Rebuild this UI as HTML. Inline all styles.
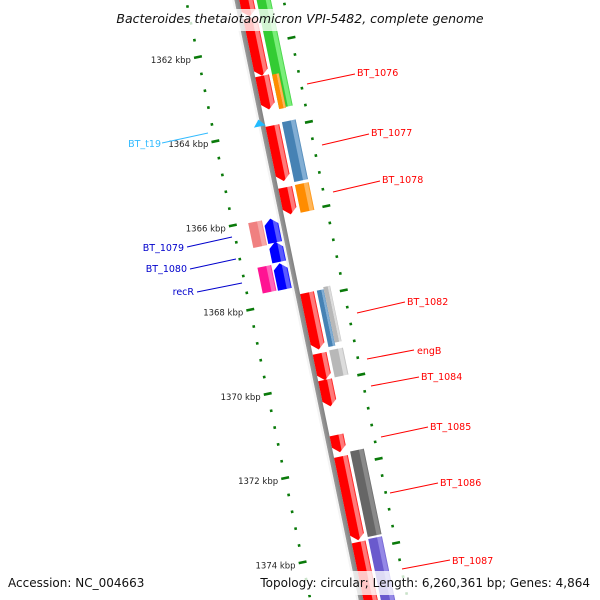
<!DOCTYPE html>
<html><head><meta charset="utf-8">
<style>
html,body{margin:0;padding:0;background:#fff;width:600px;height:600px;overflow:hidden;}
svg{display:block;font-family:"DejaVu Sans","Liberation Sans",sans-serif;overflow:hidden;}
</style></head>
<body>
<svg id="chart" width="600" height="600" viewBox="0 0 600 600" xmlns="http://www.w3.org/2000/svg">
<defs id="defs"></defs>
<g id="rot" transform="translate(242.5,33) rotate(-11.7)"></g>
<g id="labels"></g>
<rect x="84" y="9" width="354" height="22" fill="#fff" opacity="0.78"/>
<text x="300" y="23" text-anchor="middle" font-size="12.5" font-style="italic" fill="#111">Bacteroides thetaiotaomicron VPI-5482, complete genome</text>
<rect x="4" y="571" width="592" height="24" fill="#fff" opacity="0.78"/>
<text x="8" y="587" font-size="12" fill="#111">Accession: NC_004663</text>
<text x="590" y="587" text-anchor="end" font-size="12" fill="#111">Topology: circular; Length: 6,260,361 bp; Genes: 4,864</text>
</svg>
<script>
// ---- data (positions in kbp) ----
const tickKbp = [1360,1362,1364,1366,1368,1370,1372,1374,1376];
const tickLabels = ["1360 kbp","1362 kbp","1364 kbp","1366 kbp","1368 kbp","1370 kbp","1372 kbp","1374 kbp","1376 kbp"];
// inner forward lane (red genes, arrow downstream)
const fwdStart = [1360.5,1361.36,1362.73,1363.91,1365.38,1367.88,1369.32,1369.95,1371.26,1371.77,1373.80];
const fwdEnd   = [1361.32,1362.73,1363.53,1365.23,1366.02,1369.23,1369.96,1370.58,1371.67,1373.76,1376.2];
// outer forward lane category boxes
const catStart = [1360.9,1362.75,1363.88,1365.37,1367.88,1367.83,1369.30,1371.70,1373.78];
const catEnd   = [1363.55,1363.57,1365.30,1366.03,1369.22,1369.15,1369.94,1373.73,1376.2];
const catColor = ["green","orange","steel","orange","steel","silver","silver","dgrey","slate"];
const catPart  = ["full","left","full","full","left","right","full","full","full"];
// reverse lane (blue genes, arrow upstream)
const revStart = [1366.02,1366.57,1367.08];
const revEnd   = [1366.59,1367.05,1367.70];
// reverse outer category boxes
const rcatStart = [1366.02,1367.08];
const rcatEnd   = [1366.61,1367.69];
const rcatColor = ["pink","magenta"];
// tRNA
const trnaStart = [1363.71];
const trnaEnd = [1363.85];

// ---- axis ----
const U0 = 14.5, UPK = 43.0;
function U(k){ return U0 + (k-1362)*UPK; }
const TH = 11.7*Math.PI/180, S = Math.sin(TH), C = Math.cos(TH);
function toScreen(v,u){ return [242.5 + v*C + u*S, 33 - v*S + u*C]; }

const NS = "http://www.w3.org/2000/svg";
const defs = document.getElementById('defs');
const g = document.getElementById('rot');
const colors = {
  red:["#ff0000","#ff7a7a"], blue:["#0000ff","#5a5aff"], green:["#33cc33","#7aee7a"],
  orange:["#ff8c00","#ffb65a"], steel:["#4682b4","#82aed4"], silver:["#b8b8b8","#dcdcdc"],
  dgrey:["#666666","#8a8a8a"], slate:["#6a5acd","#9488e6"], pink:["#f08080","#f6a8a8"],
  magenta:["#ff1493","#ff66bb"]
};
for (const k in colors){
  const lg = document.createElementNS(NS,'linearGradient');
  lg.setAttribute('id','g-'+k);
  lg.setAttribute('x1','0');lg.setAttribute('x2','1');lg.setAttribute('y1','0');lg.setAttribute('y2','0');
  const st=[[0,colors[k][0]],[0.62,colors[k][0]],[0.66,colors[k][1]],[0.9,colors[k][1]],[1,colors[k][0]]];
  st.forEach(s=>{const e=document.createElementNS(NS,'stop');e.setAttribute('offset',s[0]);e.setAttribute('stop-color',s[1]);lg.appendChild(e);});
  defs.appendChild(lg);
}
const bb = document.createElementNS(NS,'linearGradient');
bb.setAttribute('id','g-backbone');
[[0,"#f4f4f4"],[0.3,"#f4f4f4"],[0.36,"#9a9a9a"],[1,"#808080"]].forEach(s=>{const e=document.createElementNS(NS,'stop');e.setAttribute('offset',s[0]);e.setAttribute('stop-color',s[1]);bb.appendChild(e);});
defs.appendChild(bb);

// backbone
const bk = document.createElementNS(NS,'rect');


bk.setAttribute('x',-3.5);bk.setAttribute('y',-60);bk.setAttribute('width',7);bk.setAttribute('height',680);
bk.setAttribute('fill','url(#g-backbone)');
g.appendChild(bk);

function poly(pts,fill,name){
  const p=document.createElementNS(NS,'polygon');
  p.setAttribute('points',pts.map(a=>a.join(',')).join(' '));
  p.setAttribute('fill',fill);
  
  
  g.appendChild(p);
}
function arrowDown(v0,v1,u0,u1,fill,name){
  const h=Math.min(6,(u1-u0)*0.4), vm=(v0+v1)/2;
  poly([[v0,u0],[v1,u0],[v1,u1-h],[vm,u1],[v0,u1-h]],fill,name);
}
function arrowUp(v0,v1,u0,u1,fill,name){
  const h=Math.min(6,(u1-u0)*0.4), vm=(v0+v1)/2;
  poly([[vm,u0],[v1,u0+h],[v1,u1],[v0,u1],[v0,u0+h]],fill,name);
}
for(let i=0;i<fwdStart.length;i++){
  arrowDown(3.5,17.5,U(fwdStart[i]),U(fwdEnd[i]),'url(#g-red)','forward-gene');
}
for(let i=0;i<catStart.length;i++){
  let v0=20.5,v1=34.5;
  if(catPart[i]==='left'){v1=27.5;} if(catPart[i]==='right'){v0=27.5;}
  poly([[v0,U(catStart[i])],[v1,U(catStart[i])],[v1,U(catEnd[i])],[v0,U(catEnd[i])]],'url(#g-'+catColor[i]+')','gene-category-box');
}
for(let i=0;i<revStart.length;i++){
  arrowUp(-17.5,-3.5,U(revStart[i]),U(revEnd[i]),'url(#g-blue)','reverse-gene');
}
for(let i=0;i<rcatStart.length;i++){
  poly([[-33,U(rcatStart[i])],[-19,U(rcatStart[i])],[-19,U(rcatEnd[i])],[-33,U(rcatEnd[i])]],'url(#g-'+rcatColor[i]+')','gene-category-box');
}
for(let i=0;i<trnaStart.length;i++){
  const a=U(trnaStart[i]),b=U(trnaEnd[i]);
  poly([[-2,a],[4,b+1],[-8,b+1]],'#22bbff','trna-bt-t19');
}
const lab=document.getElementById('labels');
for(let k=1360;k<=1376.01;k+=0.4){
  const kk=Math.round(k*10)/10;
  const major=Math.abs(kk/2-Math.round(kk/2))<1e-6;
  [-48.5,47].forEach(v=>{
    const r=document.createElementNS(NS,'rect');
    const w=major?8:2.6, h=2.6;
    r.setAttribute('x',v-w/2);r.setAttribute('y',U(kk)-h/2);r.setAttribute('width',w);r.setAttribute('height',h);
    r.setAttribute('fill','#0a7a0a');
    
    
    g.appendChild(r);
  });
}
for(let i=0;i<tickKbp.length;i++){
  const p=toScreen(-48.5,U(tickKbp[i]));
  if(p[1]<40||p[1]>575) continue;
  const t=document.createElementNS(NS,'text');
  t.setAttribute('x',p[0]-7);t.setAttribute('y',p[1]+6);
  t.setAttribute('text-anchor','end');t.setAttribute('font-size','8.5');t.setAttribute('fill','#222');
  t.textContent=tickLabels[i];
  
  
  lab.appendChild(t);
}
const lbl=[
 ["BT_1076",307,84,355,74,357,76,"#ff0000","start"],
 ["BT_1077",322,145,369,134,371,136,"#ff0000","start"],
 ["BT_1078",333,192,380,181,382,183,"#ff0000","start"],
 ["BT_1082",357,313,405,302,407,305,"#ff0000","start"],
 ["engB",367,359,414,350,417,354,"#ff0000","start"],
 ["BT_1084",371,386,419,377,421,380,"#ff0000","start"],
 ["BT_1085",381,437,428,427,430,430,"#ff0000","start"],
 ["BT_1086",390,493,438,483,440,486,"#ff0000","start"],
 ["BT_1087",402,569,450,560,452,564,"#ff0000","start"],
 ["BT_1079",232,237,187,247,184,251,"#0000cc","end"],
 ["BT_1080",236,259,190,269,187,272,"#0000cc","end"],
 ["recR",242,283,197,292,194,295,"#0000cc","end"],
 ["BT_t19",208,133,162,143,161,147,"#33bbff","end"]
];
lbl.forEach(d=>{
  const l=document.createElementNS(NS,'line');
  l.setAttribute('x1',d[1]);l.setAttribute('y1',d[2]);l.setAttribute('x2',d[3]);l.setAttribute('y2',d[4]);
  l.setAttribute('stroke',d[7]);l.setAttribute('stroke-width','1');
  
  
  lab.appendChild(l);
  const t=document.createElementNS(NS,'text');
  t.setAttribute('x',d[5]);t.setAttribute('y',d[6]);t.setAttribute('text-anchor',d[8]);
  t.setAttribute('font-size','9.5');t.setAttribute('fill',d[7]);
  t.textContent=d[0];
  
  
  lab.appendChild(t);
});
</script>
</body></html>
